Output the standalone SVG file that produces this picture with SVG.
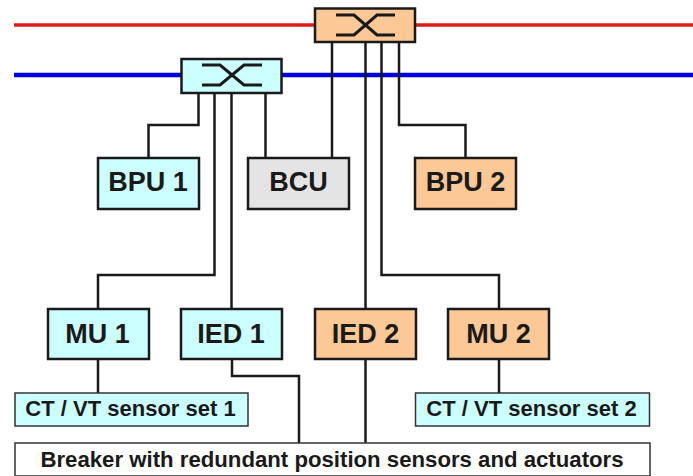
<svg xmlns="http://www.w3.org/2000/svg" width="693" height="476" viewBox="0 0 693 476">
<style>
text{font-family:"Liberation Sans",Arial,sans-serif;font-weight:bold;fill:#1a1a1a;text-anchor:middle}
.n{font-size:27px}.s{font-size:22px}.b{font-size:22.200px}
rect{stroke:#1a1a1a;stroke-width:2.500}
.thin{stroke:#333;stroke-width:1.500}
.cy{fill:#ccffff}.or{fill:#fcc896}.gr{fill:#e4e4e4}.wh{fill:#fff}
.c{fill:none;stroke:#1a1a1a;stroke-width:2.500}
.sw{fill:none;stroke:#1a1a1a;stroke-width:3}
</style>
<g id="connectors">
<path d="M14 25H693" fill="none" stroke="#e01a1a" stroke-width="3.500"/>
<path d="M14 75H693" fill="none" stroke="#0000e0" stroke-width="4.500"/>
<path class="c" d="M198.500 93V125H148.500V158"/>
<path class="c" d="M214.500 93V275H98V309"/>
<path class="c" d="M231.500 93V309"/>
<path class="c" d="M265.500 93V158"/>
<path class="c" d="M332 42V158"/>
<path class="c" d="M365.500 42V309"/>
<path class="c" d="M381.500 42V275H499V309"/>
<path class="c" d="M399 42V125H465.500V158"/>
<path class="c" d="M98 359V393"/>
<path class="c" d="M232 359V376H299V443"/>
<path class="c" d="M365.500 359V443"/>
<path class="c" d="M499 359V393"/>
</g>
<g id="switch-1"><rect class="or" x="315" y="8.500" width="100" height="33.500"/><path class="sw" d="M336 15H354L377 35H395M336 35H354L377 15H395"/></g>
<g id="switch-2"><rect class="cy" x="181.500" y="59" width="100" height="34"/><path class="sw" d="M202 65H220L244 85H262M202 85H220L244 65H262"/></g>
<g id="bpu1"><rect class="cy" x="98" y="158" width="101" height="51"/><text class="n" x="148" y="191">BPU 1</text></g>
<g id="bcu"><rect class="gr" x="248" y="158" width="101" height="51"/><text class="n" x="298.500" y="191">BCU</text></g>
<g id="bpu2"><rect class="or" x="415" y="158" width="101" height="51"/><text class="n" x="465.500" y="191">BPU 2</text></g>
<g id="mu1"><rect class="cy" x="48" y="309" width="101" height="50"/><text class="n" x="97.500" y="343">MU 1</text></g>
<g id="ied1"><rect class="cy" x="181" y="309" width="101" height="50"/><text class="n" x="231" y="343">IED 1</text></g>
<g id="ied2"><rect class="or" x="315" y="309" width="101" height="50"/><text class="n" x="365.500" y="343">IED 2</text></g>
<g id="mu2"><rect class="or" x="448" y="309" width="101" height="50"/><text class="n" x="498.500" y="343">MU 2</text></g>
<g id="sensor1"><rect class="cy thin" x="15" y="393" width="233" height="33"/><text class="s" x="130.500" y="416">CT / VT sensor set 1</text></g>
<g id="sensor2"><rect class="cy thin" x="415.500" y="393" width="234" height="33"/><text class="s" x="531.500" y="416">CT / VT sensor set 2</text></g>
<g id="breaker"><rect class="wh thin" x="15" y="443" width="635" height="33"/><text class="b" x="332" y="467">Breaker with redundant position sensors and actuators</text></g>
</svg>
